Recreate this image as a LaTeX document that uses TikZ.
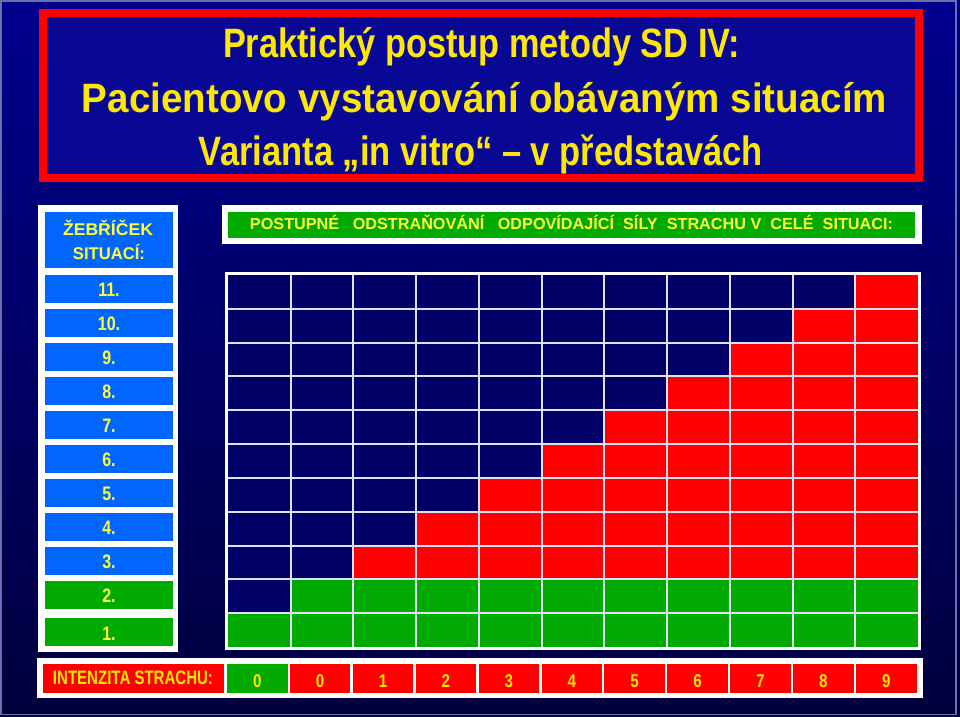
\documentclass[tikz,border=0pt]{standalone}
\usepackage{fontspec}
\usepackage{graphicx}
\usetikzlibrary{fit}
\setmainfont{Liberation Sans}
\newfontfamily\nar[FakeStretch=0.82]{Liberation Sans}
\newcommand\fitw[2]{\resizebox{#1}{\height}{#2}}
\definecolor{bgtop}{RGB}{0,0,142}
\definecolor{bgbot}{RGB}{0,0,62}
\definecolor{titlefill}{RGB}{8,8,148}
\definecolor{titleyellow}{RGB}{255,232,0}
\definecolor{lemon}{RGB}{255,255,60}
\definecolor{ladderblue}{RGB}{0,102,255}
\definecolor{grn}{RGB}{0,170,0}
\definecolor{rd}{RGB}{255,0,0}
\definecolor{navy}{RGB}{0,0,102}
\definecolor{gridline}{RGB}{225,225,245}
\definecolor{edge}{RGB}{110,110,170}
\begin{document}
\begin{tikzpicture}[x=1pt,y=-1pt,
  panel/.style={inner sep=0pt, outer sep=0pt, rectangle, draw=none},
  ttl/.style={anchor=base, inner sep=0pt, text=titleyellow, font=\fontsize{41}{41}\selectfont\bfseries},
  lbl/.style={anchor=base, inner sep=0pt, text=lemon},
  numtxt/.style={anchor=base, inner sep=0pt, text=lemon, font=\nar\fontsize{19.5}{19.5}\selectfont\bfseries},
  bottxt/.style={anchor=base, inner sep=0pt, text=titleyellow, font=\nar\fontsize{18.5}{18.5}\selectfont\bfseries}
]
\useasboundingbox (0,0) rectangle (960,716);
\shade[top color=bgtop, bottom color=bgbot] (0,0) rectangle (960,716);
\draw[line width=1.5pt, draw=edge] (0.75,0.75) rectangle (956,714.5);

% title frame
\node[panel, fill=titlefill, draw=rd, line width=8pt, fit={(43,13) (919,178)}] (titlebox) {};
\node[ttl] (t1) at (481.5,57) {\fitw{517pt}{Praktický postup metody SD IV:}};
\node[ttl] (t2) at (484.5,112) {\fitw{805pt}{Pacientovo vystavování obávaným situacím}};
\node[ttl] (t3) at (481,165) {\fitw{564pt}{Varianta „in vitro“ – v představách}};

% left ladder panel
\node[panel, fill=white, fit={(38,205) (178,652)}] (ladder) {};
\node[panel, fill=ladderblue, fit={(45,212) (173,268)}] (ladhead) {};
\node[lbl, font=\fontsize{17}{17}\selectfont\bfseries] (lh1) at (108,235) {\fitw{90pt}{ŽEBŘÍČEK}};
\node[lbl, font=\fontsize{17}{17}\selectfont\bfseries] (lh2) at (109,259) {\fitw{72pt}{SITUACÍ:}};
\foreach \k in {11,...,2} {
  \pgfmathsetmacro\tp{275+(11-\k)*34}
  \ifnum\k>2 \def\cc{ladderblue}\else\def\cc{grn}\fi
  \node[panel, fill=\cc, fit={(45,\tp) (173,\tp+28)}] (lad-\k) {};
  \node[numtxt] (ladt-\k) at (109,\tp+21.5) {\k.};
}
\node[panel, fill=grn, fit={(45,618) (173,646)}] (lad-1) {};
\node[numtxt] (ladt-1) at (109,640) {1.};

% green header bar
\node[panel, fill=white, fit={(222,205) (922,244)}] (hdrframe) {};
\node[panel, fill=grn, fit={(228,212) (915,238)}] (hdrbar) {};
\node[lbl, font=\fontsize{16}{16}\selectfont\bfseries] (hdr) at (571.5,229.5)
  {\fitw{643pt}{POSTUPNÉ\ \ \ ODSTRAŇOVÁNÍ\ \ \ ODPOVÍDAJÍCÍ\ \ SÍLY\ \ STRACHU V\ \ CELÉ\ \ SITUACI:}};

% grid
\node[panel, fill=white, fit={(225,272) (921,650)}] (gridframe) {};
\foreach \r in {0,...,10} {
  \foreach \c in {0,...,10} {
    \pgfmathtruncatemacro\s{10-\r}
    \ifnum\r<9
      \ifnum\c<\s \def\cc{navy}\else\def\cc{rd}\fi
    \else
      \ifnum\r=9
        \ifnum\c=0 \def\cc{navy}\else\def\cc{grn}\fi
      \else
        \def\cc{grn}
      \fi
    \fi
    \node[panel, fill=\cc, fit={(228+\c*62.727, 275+\r*33.818) (228+\c*62.727+62.727, 275+\r*33.818+33.818)}] (cell-\r-\c) {};
  }
}
\foreach \i in {1,...,10} {
  \draw[gridline, line width=2pt] (cell-0-\i.north west) -- (cell-10-\i.south west);
  \draw[gridline, line width=2pt] (cell-\i-0.north west) -- (cell-\i-10.north east);
}

% bottom intensity row
\node[panel, fill=white, fit={(37,658) (923,698)}] (botframe) {};
\node[panel, fill=rd, fit={(43,664) (224,693)}] (intlabel) {};
\node[lbl, text=titleyellow, font=\fontsize{19.5}{19.5}\selectfont\bfseries] (intt) at (133,684) {\fitw{160pt}{INTENZITA STRACHU:}};
\foreach \c/\v in {0/0,1/0,2/1,3/2,4/3,5/4,6/5,7/6,8/7,9/8,10/9} {
  \ifnum\c=0 \def\cc{grn}\else\def\cc{rd}\fi
  \node[panel, fill=\cc, fit={(227+\c*62.9,664) (287.5+\c*62.9,693)}] (int-\c) {};
  \node[bottxt] (intv-\c) at (257.25+\c*62.9,687) {\v};
}
\end{tikzpicture}
\end{document}
